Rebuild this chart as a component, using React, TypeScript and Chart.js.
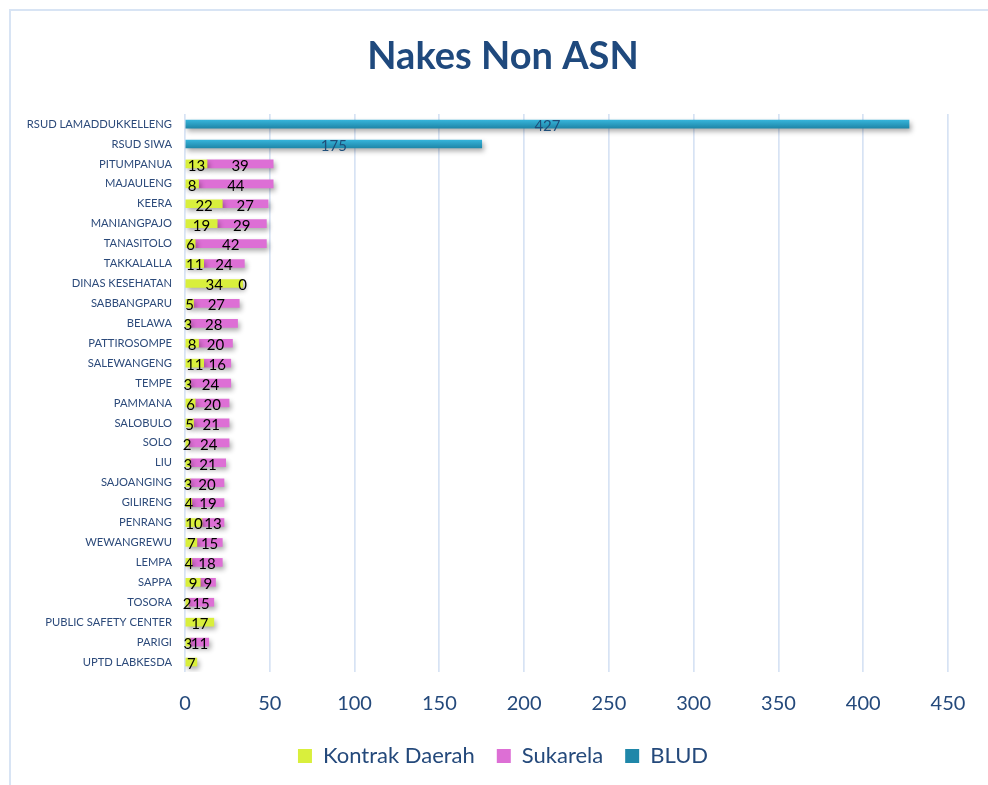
import React, { useEffect, useRef } from 'react';
import { Chart, registerables } from 'chart.js';
Chart.register(...registerables);

const categories = [
  'RSUD LAMADDUKKELLENG', 'RSUD SIWA', 'PITUMPANUA', 'MAJAULENG', 'KEERA', 'MANIANGPAJO',
  'TANASITOLO', 'TAKKALALLA', 'DINAS KESEHATAN', 'SABBANGPARU', 'BELAWA', 'PATTIROSOMPE',
  'SALEWANGENG', 'TEMPE', 'PAMMANA', 'SALOBULO', 'SOLO', 'LIU', 'SAJOANGING', 'GILIRENG',
  'PENRANG', 'WEWANGREWU', 'LEMPA', 'SAPPA', 'TOSORA', 'PUBLIC SAFETY CENTER', 'PARIGI', 'UPTD LABKESDA',
];
const kontrakDaerah = [null, null, 13, 8, 22, 19, 6, 11, 34, 5, 3, 8, 11, 3, 6, 5, 2, 3, 3, 4, 10, 7, 4, 9, 2, 17, 3, 7];
const sukarela = [null, null, 39, 44, 27, 29, 42, 24, 0, 27, 28, 20, 16, 24, 20, 21, 24, 21, 20, 19, 13, 15, 18, 9, 15, null, 11, null];
const blud = [427, 175, null, null, null, null, null, null, null, null, null, null, null, null, null, null, null, null, null, null, null, null, null, null, null, null, null, null];
const xTicks = [0, 50, 100, 150, 200, 250, 300, 350, 400, 450];

const FONT = 'Lato';

export default function App() {
  const ref = useRef<HTMLCanvasElement>(null);
  useEffect(() => {
    const canvas = ref.current!;
    const shadowLabels = {
      id: 'shadowLabels',
      beforeDatasetsDraw(chart: any) {
        const ctx = chart.ctx;
        ctx.save();
        ctx.shadowColor = 'rgba(0,0,0,0.32)';
        ctx.shadowBlur = 5;
        ctx.shadowOffsetX = 2;
        ctx.shadowOffsetY = 3;
      },
      afterDatasetsDraw(chart: any) {
        const ctx = chart.ctx;
        ctx.restore();
        ctx.save();
        chart.data.datasets.forEach((ds: any, i: number) => {
          const meta = chart.getDatasetMeta(i);
          meta.data.forEach((el: any, j: number) => {
            const v = ds.data[j];
            if (v === null || v === undefined) return;
            const p = el.getCenterPoint();
            ctx.fillStyle = i === 2 ? '#1f4e79' : '#000000';
            ctx.font = `15px ${FONT}`;
            ctx.textAlign = 'center';
            ctx.textBaseline = 'middle';
            ctx.fillText(String(v), p.x, p.y + 2);
          });
        });
        ctx.restore();
      },
    };
    const bludColor = (c: any) => {
      const chart = c.chart;
      const ys = chart.scales && chart.scales.y;
      if (!ys || c.type !== 'data') return '#2aa3c7';
      const yc = ys.getPixelForValue(c.dataIndex);
      if (!Number.isFinite(yc)) return '#2aa3c7';
      const g = chart.ctx.createLinearGradient(0, yc - 4, 0, yc + 4);
      g.addColorStop(0, '#36b4da');
      g.addColorStop(1, '#1f87a9');
      return g;
    };
    const chart = new Chart(canvas, {
      type: 'bar',
      data: {
        labels: categories,
        datasets: [
          { label: 'Kontrak Daerah', data: kontrakDaerah, backgroundColor: '#d9ef3c', barThickness: 8 },
          { label: 'Sukarela', data: sukarela, backgroundColor: '#dd6fd5', barThickness: 8 },
          { label: 'BLUD', data: blud, backgroundColor: bludColor, barThickness: 8 },
        ] as any,
      },
      plugins: [shadowLabels],
      options: {
        indexAxis: 'y',
        responsive: false,
        animation: false,
        layout: { padding: { left: 18, right: 0, top: 0, bottom: 8 } },
        scales: {
          x: {
            stacked: true,
            min: 0,
            max: 450,
            afterBuildTicks(scale: any) { scale.ticks = xTicks.map((v) => ({ value: v })); },
            afterFit(scale: any) { scale.height = 51; scale.paddingRight = 40; },
            grid: { color: '#d7e3f4', lineWidth: 1.7, drawTicks: false },
            border: { display: false },
            ticks: { color: '#24497b', font: { family: FONT, size: 20 }, padding: 20 },
          },
          y: {
            stacked: true,
            afterFit(scale: any) { scale.width = 167; },
            grid: { display: false, drawTicks: false },
            border: { display: false },
            ticks: { color: '#2c4a7a', font: { family: FONT, size: 11.2 }, padding: 13, autoSkip: false },
          },
        },
        plugins: {
          title: {
            display: true,
            text: 'Nakes Non ASN',
            color: '#1f497d',
            font: { family: FONT, size: 38, weight: 'bold' },
            padding: { top: 34, bottom: 34.5 },
          },
          legend: {
            position: 'bottom',
            labels: {
              color: '#24497b',
              font: { family: FONT, size: 22 },
              boxWidth: 14,
              boxHeight: 14,
              padding: 22,
            },
          },
          tooltip: { enabled: false },
        },
      } as any,
    });
    return () => chart.destroy();
  }, []);
  return (
    <div style={{ position: 'fixed', left: 0, top: 0, width: 988, height: 785, background: '#fff' }}>
      <canvas ref={ref} width={988} height={785} style={{ display: 'block', position: 'absolute', left: 0, top: 0 }} />
      <div style={{ position: 'absolute', left: 9, top: 9, width: 1000, height: 800, border: '2px solid #d8e4f4', pointerEvents: 'none' }} />
    </div>
  );
}
